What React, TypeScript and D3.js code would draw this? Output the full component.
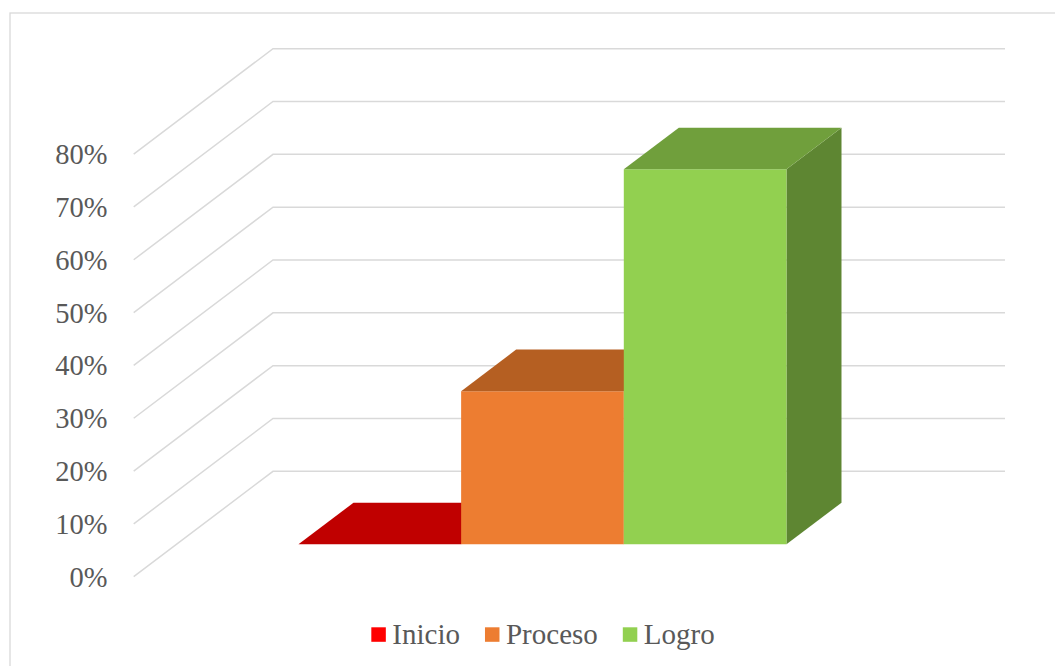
import React, { useLayoutEffect, useRef, useState } from "react";
import * as d3 from "d3";

const series = ["Inicio", "Proceso", "Logro"];
const values = [0, 0.29, 0.71];
const frontColors = ["#FF0000", "#ED7D31", "#92D050"];
const topColors = ["#C00000", "#B55F22", "#709F3C"];
const sideColors = ["#A00000", "#A4541C", "#5E8632"];
const ticks = [0, 0.1, 0.2, 0.3, 0.4, 0.5, 0.6, 0.7, 0.8];

const W = 1055;
const H = 666;
const FS = 28.5;
const LFS = 29;
const TEXT = "#595959";
const GRID = "#D9D9D9";

// plot geometry (oblique projection)
const floorFrontY = 576.7;
const xLeft = 133.7;
const xRight = 865.7;
const depthDX = 139.3;
const depthDY = -105.4;
const barD0 = 0.307;
const barD1 = 0.702;

const yScale = d3.scaleLinear().domain([0, 0.8]).range([0, 422.6]);
const xScale = d3
  .scaleBand<string>()
  .domain(series)
  .range([xLeft, xRight])
  .paddingInner(0)
  .paddingOuter(0.75);

// screen Y decreases as depth increases
function P(x: number, v: number, d: number): [number, number] {
  return [x + d * depthDX, floorFrontY - yScale(v) + d * depthDY];
}

const line = d3.line<[number, number]>();
function poly(pts: [number, number][]) {
  return line([...pts, pts[0]]) as string;
}

export default function App() {
  const bw = xScale.bandwidth();
  const refs = useRef<(SVGTextElement | null)[]>([]);
  const [widths, setWidths] = useState<number[]>(series.map((s) => s.length * LFS * 0.42));

  useLayoutEffect(() => {
    const w = refs.current.map((el, i) => (el ? el.getComputedTextLength() : widths[i]));
    if (w.some((v, i) => Math.abs(v - widths[i]) > 0.5)) setWidths(w);
  });

  // legend layout
  const sw = 14.5;
  const swGap = 6.5;
  const itemGap = 25;
  const total =
    widths.reduce((a, w) => a + sw + swGap + w, 0) + itemGap * (series.length - 1);
  let lx = 543 - total / 2;
  const legendItems = series.map((s, i) => {
    const x = lx;
    lx += sw + swGap + widths[i] + itemGap;
    return { s, x, i };
  });

  return (
    <svg
      width={W}
      height={H}
      style={{ position: "fixed", left: 0, top: 0 }}
    >
      <rect x={0} y={0} width={W} height={H} fill="#fff" />
      <rect x={10} y={13} width={W + 20} height={H + 20} fill="#fff" stroke={GRID} strokeWidth={1.3} />

      {/* gridlines: side wall diagonals and back wall horizontals */}
      {ticks.map((t) => {
        const a = P(xLeft, t, 0);
        const b = P(xLeft, t, 1);
        const c = P(xRight, t, 1);
        return (
          <path
            key={t}
            d={line([a, b, c]) as string}
            fill="none"
            stroke={GRID}
            strokeWidth={1.5}
          />
        );
      })}

      {/* axis labels */}
      <g fontFamily="Liberation Serif" fontSize={FS} fill={TEXT}>
        {ticks.map((t) => {
          const a = P(xLeft, t, 0);
          return (
            <text
              key={"l" + t}
              x={107.5}
              y={a[1] + 10}
              textAnchor="end"
              style={{ fontFamily: '"Liberation Serif"' }}
            >
              {d3.format(".0%")(t)}
            </text>
          );
        })}
      </g>

      {/* bars */}
      {series.map((s, i) => {
        const x0 = xScale(s) as number;
        const x1 = x0 + bw;
        const v = values[i];
        const front = poly([P(x0, 0, barD0), P(x1, 0, barD0), P(x1, v, barD0), P(x0, v, barD0)]);
        const top = poly([P(x0, v, barD0), P(x1, v, barD0), P(x1, v, barD1), P(x0, v, barD1)]);
        const side = poly([P(x1, 0, barD0), P(x1, 0, barD1), P(x1, v, barD1), P(x1, v, barD0)]);
        return (
          <g key={s}>
            {v > 0 && <path d={side} fill={sideColors[i]} />}
            {v > 0 && <path d={front} fill={frontColors[i]} />}
            <path d={top} fill={topColors[i]} />
          </g>
        );
      })}

      {/* legend */}
      <g fontFamily="Liberation Serif" fontSize={LFS} fill={TEXT}>
        {legendItems.map(({ s, x, i }) => (
          <g key={"lg" + s}>
            <rect x={x} y={627.3} width={sw} height={sw} fill={frontColors[i]} />
            <text
              ref={(el) => {
                refs.current[i] = el;
              }}
              x={x + sw + swGap}
              y={643.5}
              style={{ fontFamily: '"Liberation Serif"' }}
            >
              {s}
            </text>
          </g>
        ))}
      </g>
    </svg>
  );
}
